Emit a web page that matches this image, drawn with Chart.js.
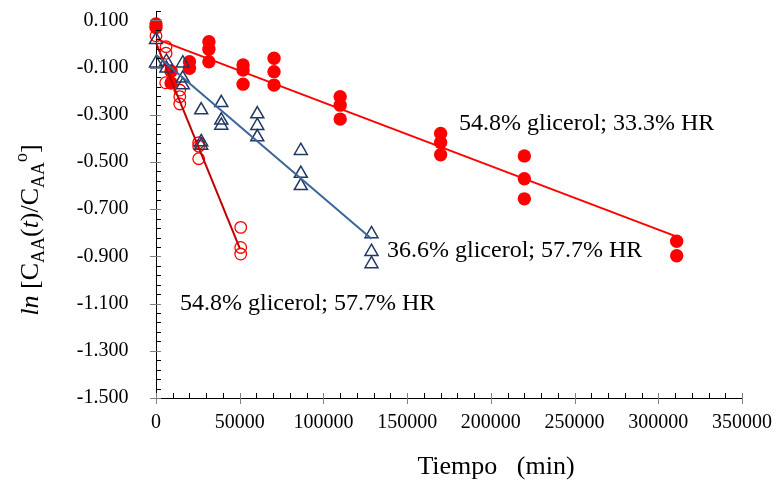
<!DOCTYPE html>
<html>
<head>
<meta charset="utf-8">
<script src="https://cdn.jsdelivr.net/npm/chart.js@4.4.1/dist/chart.umd.min.js"></script>
<style>
  html, body { margin: 0; padding: 0; background: #fff; }
  #wrap { width: 776px; height: 488px; }
</style>
</head>
<body>
<div id="wrap"><canvas id="chart" width="776" height="488"></canvas></div>
<script>
// 54.8% glicerol; 33.3% HR  (filled red circles)
const tiempoA = [0, 0, 9000, 9000, 20000, 20000, 31600, 31600, 31600, 52000, 52000, 52000,
  70500, 70500, 70500, 110000, 110000, 110000, 170000, 170000, 170000, 220000, 220000, 220000, 311000, 311000];
const lnA = [0.085, 0.07, -0.115, -0.165, -0.075, -0.103, 0.01, -0.022, -0.075, -0.089, -0.11, -0.17,
  -0.06, -0.117, -0.174, -0.223, -0.259, -0.318, -0.379, -0.417, -0.469, -0.474, -0.571, -0.656, -0.836, -0.897];

// 36.6% glicerol; 57.7% HR  (open triangles)
const tiempoB = [0, 0, 6200, 6200, 16000, 16000, 16000, 27000, 27000, 27000, 39000, 39000, 39000,
  60500, 60500, 60500, 86500, 86500, 86500, 128700, 128700, 128700];
const lnB = [0.018, -0.081, -0.074, -0.103, -0.081, -0.145, -0.174, -0.28, -0.415, -0.43, -0.249, -0.323, -0.345,
  -0.297, -0.346, -0.394, -0.452, -0.549, -0.601, -0.805, -0.88, -0.932];

// 54.8% glicerol; 57.7% HR  (open red circles)
const tiempoC = [0, 6000, 6000, 5800, 14200, 14200, 14200, 25500, 25500, 25500, 50600, 50600, 50600];
const lnC = [0.035, -0.011, -0.039, -0.164, -0.195, -0.223, -0.254, -0.418, -0.433, -0.486, -0.777, -0.862, -0.89];

// fitted lines (end points)
const fitTiempoA = [0, 311000];
const fitLnA = [0.022, -0.816];
const fitTiempoB = [0, 128700];
const fitLnB = [-0.045, -0.825];
const fitTiempoC = [0, 50000];
const fitLnC = [0.005, -0.865];

// axes
const xTicks = [0, 50000, 100000, 150000, 200000, 250000, 300000, 350000];
const yTicks = [-1.5, -1.3, -1.1, -0.9, -0.7, -0.5, -0.3, -0.1, 0.1];
const yMin = -1.5, yMax = 0.14, yMinor = 0.04;
const xMin = 0, xMax = 350000, xMinor = 10000;

const labelA = '54.8% glicerol; 33.3% HR';
const labelB = '36.6% glicerol; 57.7% HR';
const labelC = '54.8% glicerol; 57.7% HR';
const xTitle = 'Tiempo   (min)';

const pts = (xs, ys) => xs.map((x, i) => ({ x: x, y: ys[i] }));

Chart.defaults.font.family = '"Liberation Serif", "Times New Roman", serif';
Chart.defaults.color = '#000';

const SERIF = '"Liberation Serif", "Times New Roman", serif';

// no extra room for label overhang, the page margins are set by hand
function noPad(s) {
  s.paddingTop = 0; s.paddingBottom = 0; s.paddingLeft = 0; s.paddingRight = 0;
}

// ticks, titles and labels drawn on top of the chart
const decor = {
  id: 'decor',
  afterDraw(chart) {
    const ctx = chart.ctx;
    const xs = chart.scales.x, ys = chart.scales.y;
    const ax = xs.left, ay = ys.bottom;
    ctx.save();
    ctx.lineWidth = 1;

    function seg(x1, y1, x2, y2, col) {
      ctx.strokeStyle = col;
      ctx.beginPath();
      ctx.moveTo(x1, y1);
      ctx.lineTo(x2, y2);
      ctx.stroke();
    }

    // y minor ticks (inside) and major ticks (crossing)
    for (let i = 0; ; i++) {
      const v = yMin + i * yMinor;
      if (v > yMax + 1e-9) break;
      const py = Math.round(ys.getPixelForValue(v)) + 0.5;
      seg(ax, py, ax + 5, py, '#000');
    }
    yTicks.forEach(v => {
      const py = Math.round(ys.getPixelForValue(v)) + 0.5;
      seg(ax - 6, py, ax + 5, py, '#7f7f7f');
    });
    // x minor and major ticks
    for (let i = 0; ; i++) {
      const v = xMin + i * xMinor;
      if (v > xMax + 1e-9) break;
      const px = Math.round(xs.getPixelForValue(v)) + 0.5;
      seg(px, ay, px, ay - 5, '#000');
    }
    xTicks.forEach(v => {
      const px = Math.round(xs.getPixelForValue(v)) + 0.5;
      seg(px, ay - 5, px, ay + 6, '#7f7f7f');
    });

    // series labels
    ctx.fillStyle = '#000';
    ctx.textBaseline = 'alphabetic';
    ctx.textAlign = 'left';
    ctx.font = '24px ' + SERIF;
    ctx.fillText(labelA, 459, 130);
    ctx.fillText(labelB, 387, 257);
    ctx.fillText(labelC, 180, 310);

    // x title
    ctx.font = '26px ' + SERIF;
    ctx.textAlign = 'center';
    ctx.fillText(xTitle, 496, 474);

    // y title: ln [C_AA(t)/C_AA^o]
    const big = 26, small = 18;
    const parts = [
      { t: 'ln', it: true },
      { t: ' [C' },
      { t: 'AA', sub: true },
      { t: '(' },
      { t: 't', it: true },
      { t: ')/C' },
      { t: 'AA', sub: true },
      { t: 'o', sup: true },
      { t: ']' }
    ];
    const fontOf = p => (p.it ? 'italic ' : '') + ((p.sub || p.sup) ? small : big) + 'px ' + SERIF;
    let total = 0;
    parts.forEach(p => { ctx.font = fontOf(p); p.w = ctx.measureText(p.t).width; total += p.w; });
    ctx.translate(38, 230);
    ctx.rotate(-Math.PI / 2);
    ctx.textAlign = 'left';
    let u = -total / 2;
    parts.forEach(p => {
      ctx.font = fontOf(p);
      const dv = p.sub ? 6 : (p.sup ? -11 : 0);
      ctx.fillText(p.t, u, dv);
      u += p.w;
    });
    ctx.restore();
  }
};

new Chart(document.getElementById('chart'), {
  type: 'scatter',
  data: {
    datasets: [
      {
        type: 'line', label: 'fitA', data: pts(fitTiempoA, fitLnA),
        borderColor: '#ff0000', borderWidth: 2, pointRadius: 0, fill: false, clip: false
      },
      {
        type: 'line', label: 'fitB', data: pts(fitTiempoB, fitLnB),
        borderColor: '#3b6497', borderWidth: 2, pointRadius: 0, fill: false, clip: false
      },
      {
        type: 'line', label: 'fitC', data: pts(fitTiempoC, fitLnC),
        borderColor: '#c00000', borderWidth: 2, pointRadius: 0, fill: false, clip: false
      },
      {
        label: labelB, data: pts(tiempoB, lnB),
        pointStyle: 'triangle', pointRadius: 7.5, borderWidth: 1.5,
        borderColor: '#1f3864', backgroundColor: 'rgba(0,0,0,0)', clip: false
      },
      {
        label: labelC, data: pts(tiempoC, lnC),
        pointStyle: 'circle', pointRadius: 5.8, borderWidth: 1.3,
        borderColor: '#ff0000', backgroundColor: 'rgba(0,0,0,0)', clip: false
      },
      {
        label: labelA, data: pts(tiempoA, lnA),
        pointStyle: 'circle', pointRadius: 6.7, borderWidth: 0,
        borderColor: '#ff0000', backgroundColor: '#ff0000', clip: false
      }
    ]
  },
  options: {
    responsive: false,
    animation: false,
    events: [],
    layout: { padding: { top: 11, right: 34, left: 0, bottom: 0 } },
    plugins: {
      legend: { display: false },
      tooltip: { enabled: false },
      title: { display: false }
    },
    scales: {
      x: {
        type: 'linear',
        min: xMin, max: xMax,
        afterBuildTicks: s => { s.ticks = xTicks.map(v => ({ value: v })); },
        afterFit: s => { s.height = 90; noPad(s); },
        grid: { display: false },
        border: { display: true, color: '#000', width: 1 },
        ticks: {
          autoSkip: false, maxRotation: 0, padding: 5,
          font: { size: 20 }, color: '#000',
          callback: v => String(v)
        }
      },
      y: {
        type: 'linear',
        min: yMin, max: yMax,
        afterBuildTicks: s => { s.ticks = yTicks.map(v => ({ value: v })); },
        afterFit: s => { s.width = 156; noPad(s); },
        grid: { display: false },
        border: { display: true, color: '#000', width: 1 },
        ticks: {
          autoSkip: false, padding: 19.5,
          font: { size: 20 }, color: '#000',
          callback: v => Number(v).toFixed(3)
        }
      }
    }
  },
  plugins: [decor]
});
</script>
</body>
</html>
